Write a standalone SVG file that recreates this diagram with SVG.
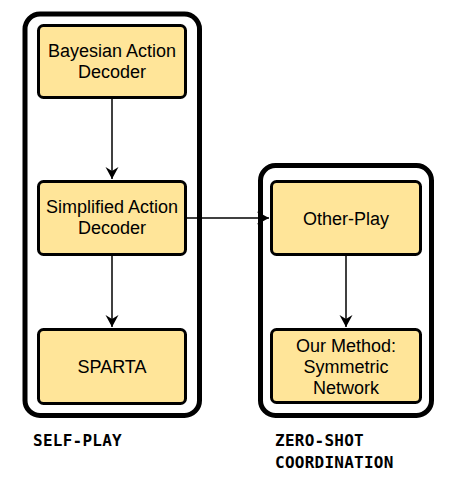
<svg xmlns="http://www.w3.org/2000/svg" width="461" height="494" viewBox="0 0 461 494">
<style>
.group{fill:#ffffff;stroke:#000000;stroke-width:5}
.node{fill:#ffe599;stroke:#000000;stroke-width:3}
.lbl{font-family:"Liberation Sans",Arial,sans-serif;font-size:18px;fill:#000000;text-anchor:middle}
.cap{font-family:"DejaVu Sans Mono",monospace;font-weight:bold;font-size:16px;letter-spacing:0.25px;fill:#000000}
.edge{fill:none;stroke:#000000;stroke-width:1.5}
</style>
<defs>
<marker id="arr" markerUnits="userSpaceOnUse" markerWidth="14" markerHeight="14" viewBox="-12 -7 13 14" refX="0" refY="0" orient="auto">
<path d="M0,0 L-12,-6.5 L-8,0 L-12,6.5 Z" fill="#000000"/>
</marker>
</defs>
<g id="self-play-group">
<rect class="group" x="25" y="14" width="174.5" height="401.5" rx="15"/>
</g>
<g id="zsc-group">
<rect class="group" x="260.5" y="165.5" width="171" height="250" rx="15"/>
</g>
<g id="connectors">
<path class="edge" d="M112,99 L112,179" marker-end="url(#arr)"/>
<path class="edge" d="M112,256 L112,327" marker-end="url(#arr)"/>
<path class="edge" d="M187,218 L269,218" marker-end="url(#arr)"/>
<path class="edge" d="M346,256 L346,327" marker-end="url(#arr)"/>
</g>
<g id="bad">
<rect class="node" x="38.5" y="25.5" width="147" height="72" rx="5"/>
<text class="lbl" x="112" y="57">Bayesian Action</text>
<text class="lbl" x="112" y="78">Decoder</text>
</g>
<g id="sad">
<rect class="node" x="38.5" y="181.5" width="147" height="73" rx="5"/>
<text class="lbl" x="112" y="213">Simplified Action</text>
<text class="lbl" x="112" y="234">Decoder</text>
</g>
<g id="sparta">
<rect class="node" x="38.5" y="329.5" width="147" height="74" rx="5"/>
<text class="lbl" x="112" y="373">SPARTA</text>
</g>
<g id="other-play">
<rect class="node" x="271.5" y="181.5" width="149" height="73" rx="5"/>
<text class="lbl" x="346" y="225">Other-Play</text>
</g>
<g id="symmetric">
<rect class="node" x="271.5" y="329.5" width="149" height="73" rx="5"/>
<text class="lbl" x="346" y="352">Our Method:</text>
<text class="lbl" x="346" y="373">Symmetric</text>
<text class="lbl" x="346" y="394">Network</text>
</g>
<g id="labels">
<text class="cap" x="33" y="446">SELF-PLAY</text>
<text class="cap" x="275" y="446">ZERO-SHOT</text>
<text class="cap" x="275" y="468">COORDINATION</text>
</g>
</svg>
